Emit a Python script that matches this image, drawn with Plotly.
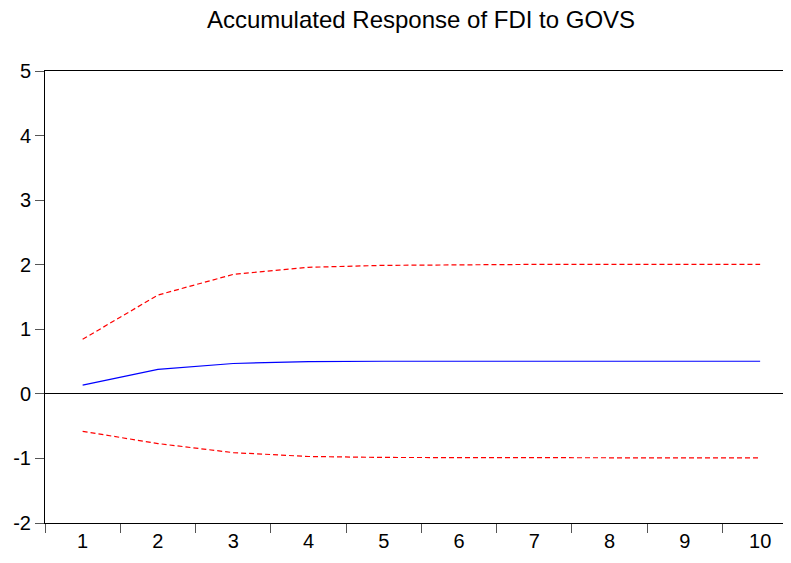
import plotly.graph_objs as go

# periods and accumulated responses
periods = ["1", "2", "3", "4", "5", "6", "7", "8", "9", "10"]
response = [0.134, 0.38, 0.47, 0.50, 0.505, 0.505, 0.505, 0.505, 0.505, 0.505]
upper_band = [0.845, 1.53, 1.85, 1.96, 1.99, 2.0, 2.005, 2.005, 2.005, 2.005]
lower_band = [-0.58, -0.77, -0.91, -0.97, -0.985, -0.99, -0.99, -0.99, -0.99, -0.99]
y_ticks = [-2, -1, 0, 1, 2, 3, 4, 5]
y_labels = ["-2", "-1", "0", "1", "2", "3", "4", "5"]

trace_resp = go.Scatter(x=periods, y=response, mode='lines',
                        line={'color': '#0000FF', 'width': 1.2})
trace_up = go.Scatter(x=periods, y=upper_band, mode='lines',
                      line={'color': '#FF0000', 'width': 1.2, 'dash': '5px,3px'})
trace_low = go.Scatter(x=periods, y=lower_band, mode='lines',
                       line={'color': '#FF0000', 'width': 1.2, 'dash': '5px,3px'})

# page body has an 8px margin, so the figure is sized to fill the rest
font = "Liberation Sans, Arial, sans-serif"
layout = go.Layout(
    width=783, height=555,
    margin={'l': 37, 'r': 0, 't': 63, 'b': 40},
    paper_bgcolor='white', plot_bgcolor='white',
    showlegend=False,
    font={'family': font, 'color': '#000000'},
    title={'text': 'Accumulated Response of FDI to GOVS',
           'font': {'size': 24, 'family': font, 'color': '#000000'},
           'xref': 'container', 'x': 0.5275, 'xanchor': 'center',
           'yref': 'container', 'y': 0.979, 'yanchor': 'middle'},
    xaxis={'type': 'category', 'range': [-0.5, 9.41], 'automargin': False,
           'tickson': 'boundaries', 'ticks': 'outside', 'ticklen': 9,
           'tickcolor': '#555555', 'tickfont': {'size': 20},
           'showline': True, 'linecolor': '#000000', 'linewidth': 1,
           'mirror': True, 'showgrid': False, 'zeroline': False},
    yaxis={'range': [-2, 5], 'tickvals': y_ticks, 'ticktext': y_labels,
           'automargin': False,
           'ticks': 'outside', 'ticklen': 9, 'tickcolor': '#555555',
           'tickfont': {'size': 20},
           'showline': True, 'linecolor': '#000000', 'linewidth': 1,
           'showgrid': False, 'zeroline': True, 'zerolinecolor': '#000000',
           'zerolinewidth': 1},
)

fig = go.Figure(data=[trace_resp, trace_up, trace_low], layout=layout)
fig.write_html("out.html")
